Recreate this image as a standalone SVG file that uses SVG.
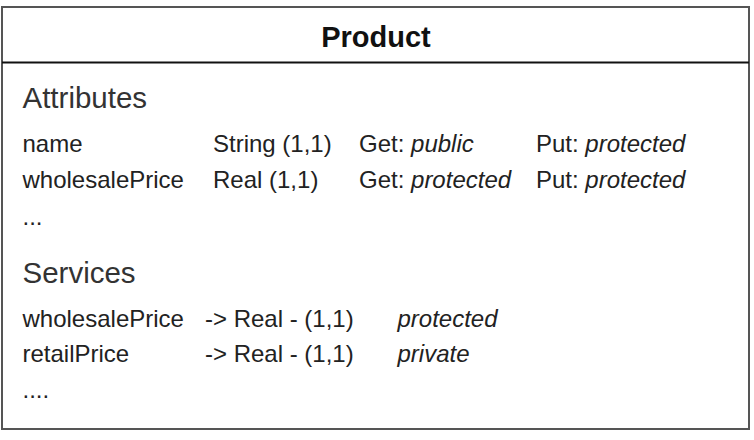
<svg xmlns="http://www.w3.org/2000/svg" width="754" height="440" viewBox="0 0 754 440">
  <style>
    .box { fill: #ffffff; stroke: #555555; stroke-width: 2; }
    .sep { stroke: #111111; stroke-width: 2.2; }
    .title { font-family: "Liberation Sans", Arial, sans-serif; font-size: 29px; font-weight: bold; fill: #111111; }
    .head { font-family: "Liberation Sans", Arial, sans-serif; font-size: 29.5px; fill: #333333; }
    .row { font-family: "Liberation Sans", Arial, sans-serif; font-size: 24px; fill: #222222; }
    .it { font-style: italic; }
  </style>
  <g id="product">
    <rect class="box" x="2" y="7" width="747" height="422"/>
    <line class="sep" x1="2" y1="62.5" x2="749" y2="62.5"/>
    <text class="title" x="376" y="47" text-anchor="middle">Product</text>
    <text class="head" x="22.5" y="107.5">Attributes</text>
    <text class="row" x="22.5" y="152">name</text>
    <text class="row" x="213" y="152">String (1,1)</text>
    <text class="row" x="359" y="152">Get: <tspan class="it">public</tspan></text>
    <text class="row" x="536" y="152">Put: <tspan class="it">protected</tspan></text>
    <text class="row" x="22.5" y="188">wholesalePrice</text>
    <text class="row" x="213" y="188">Real (1,1)</text>
    <text class="row" x="359" y="188">Get: <tspan class="it">protected</tspan></text>
    <text class="row" x="536" y="188">Put: <tspan class="it">protected</tspan></text>
    <text class="row" x="22.5" y="225">...</text>
    <text class="head" x="22.5" y="282.5">Services</text>
    <text class="row" x="22.5" y="327">wholesalePrice</text>
    <text class="row" x="205" y="327">-&gt; Real - (1,1)</text>
    <text class="row it" x="397.5" y="327">protected</text>
    <text class="row" x="22.5" y="362">retailPrice</text>
    <text class="row" x="205" y="362">-&gt; Real - (1,1)</text>
    <text class="row it" x="397.5" y="362">private</text>
    <text class="row" x="22.5" y="398">....</text>
  </g>
  <g id="connectors"/>
</svg>
